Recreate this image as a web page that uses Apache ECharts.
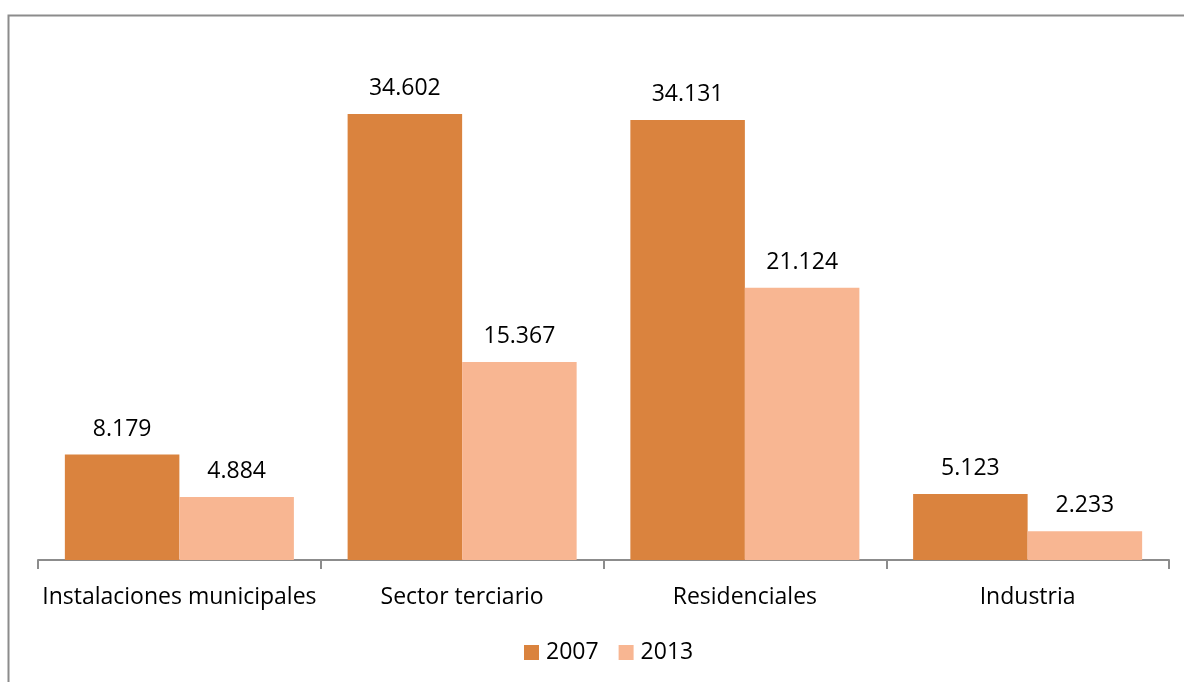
<!DOCTYPE html>
<html>
<head>
<meta charset="utf-8">
<script src="https://cdn.jsdelivr.net/npm/echarts@6/dist/echarts.min.js"></script>
<style>
  html, body { margin: 0; padding: 0; background: #fff; }
  #chart { width: 1184px; height: 682px; }
</style>
</head>
<body>
<div id="chart"></div>
<script>
var categories = ['Instalaciones municipales', 'Sector terciario', 'Residenciales', 'Industria'];
var values2007 = [8.179, 34.602, 34.131, 5.123];
var values2013 = [4.884, 15.367, 21.124, 2.233];

var chart = echarts.init(document.getElementById('chart'));

var labelStyle = {
    show: true,
    position: 'top',
    distance: 14,
    color: '#000',
    fontFamily: 'Open Sans',
    fontSize: 23,
    formatter: function (p) { return p.value.toFixed(3); }
};

option = {
    animation: false,
    backgroundColor: '#fff',
    graphic: [{
        type: 'rect',
        shape: { x: 8.5, y: 15.5, width: 1300, height: 800 },
        style: { fill: 'none', stroke: '#8c8c8c', lineWidth: 2 },
        silent: true
    }],
    grid: {
        left: 38,
        right: 15,
        top: 44.4,
        bottom: 122
    },
    legend: {
        bottom: 13,
        left: 519,
        itemWidth: 15,
        itemHeight: 15,
        itemGap: 20,
        icon: 'rect',
        textStyle: { fontFamily: 'Open Sans', fontSize: 23, color: '#000', padding: [0, 0, 0, 2] }
    },
    xAxis: {
        type: 'category',
        data: categories,
        axisLine: { lineStyle: { color: '#8c8c8c', width: 2 } },
        axisTick: { show: true, interval: 0, length: 9, lineStyle: { color: '#8c8c8c', width: 2 } },
        axisLabel: { interval: 0, margin: 26, color: '#000', fontFamily: 'Open Sans', fontSize: 23 }
    },
    yAxis: {
        type: 'value',
        min: 0,
        max: 40,
        show: false,
        splitLine: { show: false }
    },
    series: [
        {
            name: '2007',
            type: 'bar',
            data: values2007,
            barGap: '0%',
            barCategoryGap: '19%',
            itemStyle: { color: '#DA833E' },
            label: labelStyle
        },
        {
            name: '2013',
            type: 'bar',
            data: values2013,
            itemStyle: { color: '#F8B692' },
            label: labelStyle
        }
    ]
};

chart.setOption(option);
</script>
</body>
</html>
